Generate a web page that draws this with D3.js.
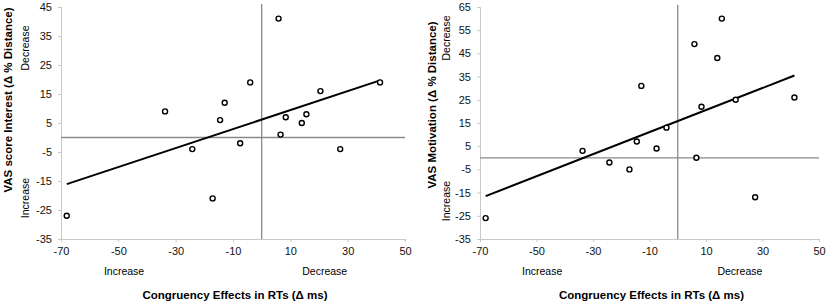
<!DOCTYPE html>
<html>
<head>
    <meta charset="UTF-8">
    <title>VAS vs congruency effects</title>
    <style>
        body {
            margin: 0;
            overflow: hidden;
            background-color: #ffffff;
        }
        text {
            font-family: "Liberation Sans", Arial, sans-serif;
        }
    </style>
    <script src="https://cdn.jsdelivr.net/npm/d3@7"></script>
</head>
<body>
    <script>
        // Congruency effects in RTs (same subjects in both panels)
        const rtEffects = [-68, -33.7, -24.2, -17.1, -14.5, -12.9, -7.5, -4, 5.9, 6.6, 8.4, 14, 15.6, 20.5, 27.4, 41.3];
        // VAS change per subject
        const vasInterest = [-27, 9, -4, -21, 6, 12, -2, 19, 41, 1, 7, 5, 8, 16, -4, 19];
        const vasMotivation = [-26, 3, -2, -5, 7, 31, 4, 13, 49, 0, 22, 43, 60, 25, -17, 26];

        const xTicks = [-70, -50, -30, -10, 10, 30, 50];
        const yTicksInterest = [-35, -25, -15, -5, 5, 15, 25, 35, 45];
        const yTicksMotivation = [-35, -25, -15, -5, 5, 15, 25, 35, 45, 55, 65];

        const width = 827;
        const height = 304;
        const svg = d3.select('body')
            .append('svg')
            .attr('width', width)
            .attr('height', height);

        // least squares fit, like the excel trendline
        function linFit(xs, ys) {
            const mx = d3.mean(xs), my = d3.mean(ys);
            let sxy = 0, sxx = 0;
            xs.forEach((x, i) => {
                sxy += (x - mx) * (ys[i] - my);
                sxx += (x - mx) * (x - mx);
            });
            const b = sxy / sxx;
            return x => my + b * (x - mx);
        }

        // plain hyphen for negatives, as in the original
        const fmt = d => String(d);

        function panel(opt) {
            const g = svg.append('g');
            const x = d3.scaleLinear().domain([-70, 50]).range([opt.left, opt.right]);
            const y = d3.scaleLinear().domain(opt.yDomain).range([239, 7]);

            // axes
            const yAxis = g.append('g')
                .attr('transform', `translate(${opt.left},0)`)
                .call(d3.axisLeft(y).tickValues(opt.yTicks).tickFormat(fmt).tickSize(3).tickPadding(6));
            const xAxis = g.append('g')
                .attr('transform', `translate(0,239)`)
                .call(d3.axisBottom(x).tickValues(xTicks).tickFormat(fmt).tickSize(3).tickPadding(5));
            [xAxis, yAxis].forEach(a => {
                a.select('.domain').attr('stroke', '#c8c8c8');
                a.selectAll('.tick line').attr('stroke', '#c8c8c8');
                a.selectAll('.tick text')
                    .attr('fill', '#111')
                    .style('font-size', '11px')
                    .style('font-family', '"Liberation Sans", Arial, sans-serif');
            });

            // reference lines at zero
            g.append('line')
                .attr('x1', x(-70)).attr('x2', x(50))
                .attr('y1', y(0)).attr('y2', y(0))
                .attr('stroke', '#8a8a8a').attr('stroke-width', 1.3);
            g.append('line')
                .attr('x1', x(0)).attr('x2', x(0))
                .attr('y1', y(opt.yDomain[1] + 1)).attr('y2', y(opt.yDomain[0]))
                .attr('stroke', '#8a8a8a').attr('stroke-width', 1.3);

            // trendline
            const f = linFit(rtEffects, opt.values);
            const x0 = d3.min(rtEffects), x1 = d3.max(rtEffects);
            g.append('line')
                .attr('x1', x(x0)).attr('y1', y(f(x0)))
                .attr('x2', x(x1)).attr('y2', y(f(x1)))
                .attr('stroke', '#000').attr('stroke-width', 2);

            // points
            g.selectAll('circle')
                .data(rtEffects.map((d, i) => [d, opt.values[i]]))
                .join('circle')
                .attr('cx', d => x(d[0]))
                .attr('cy', d => y(d[1]))
                .attr('r', 2.5)
                .attr('fill', '#fff')
                .attr('stroke', '#000')
                .attr('stroke-width', 1.4);

            // y title and direction labels
            g.append('text')
                .attr('transform', `translate(${opt.titleX},${opt.titleY}) rotate(-90)`)
                .attr('text-anchor', 'middle')
                .style('font-size', '11.5px')
                .style('font-weight', 'bold')
                .text(opt.yTitle);
            g.append('text')
                .attr('transform', `translate(${opt.dirX},${opt.decY}) rotate(-90)`)
                .attr('text-anchor', 'middle')
                .style('font-size', '10.5px')
                .text('Decrease');
            g.append('text')
                .attr('transform', `translate(${opt.dirX},${opt.incY}) rotate(-90)`)
                .attr('text-anchor', 'middle')
                .style('font-size', '10.5px')
                .text('Increase');

            // x labels
            g.append('text')
                .attr('x', x(-48)).attr('y', 275)
                .attr('text-anchor', 'middle')
                .style('font-size', '10.5px')
                .text('Increase');
            g.append('text')
                .attr('x', x(22)).attr('y', 275)
                .attr('text-anchor', 'middle')
                .style('font-size', '10.5px')
                .text('Decrease');
            g.append('text')
                .attr('x', (opt.left + opt.right) / 2 + 2).attr('y', 299)
                .attr('text-anchor', 'middle')
                .style('font-size', '11.5px')
                .style('font-weight', 'bold')
                .text('Congruency Effects in RTs (\u0394 ms)');
        }

        panel({
            left: 61, right: 405,
            yDomain: [-35, 45], yTicks: yTicksInterest,
            values: vasInterest,
            yTitle: 'VAS score Interest  (\u0394 % Distance)',
            titleX: 12, titleY: 100,
            dirX: 29, decY: 48, incY: 198
        });

        panel({
            left: 480, right: 819,
            yDomain: [-35, 65], yTicks: yTicksMotivation,
            values: vasMotivation,
            yTitle: 'VAS Motivation (\u0394 % Distance)',
            titleX: 436, titleY: 105,
            dirX: 450, decY: 38, incY: 201
        });
    </script>
</body>
</html>
